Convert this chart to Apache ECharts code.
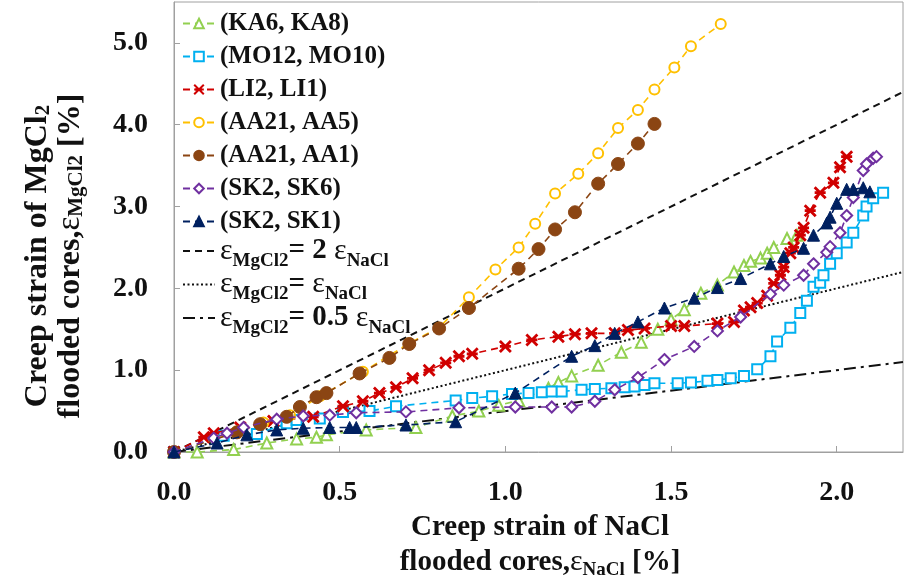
<!DOCTYPE html>
<html>
<head>
<meta charset="utf-8">
<script src="https://cdn.jsdelivr.net/npm/echarts@6/dist/echarts.min.js"></script>
<style>
  html, body { margin: 0; padding: 0; background: #fff; }
  #chart { width: 924px; height: 584px; }
</style>
</head>
<body>
<div id="chart"></div>
<script>
// Creep strain pairs: [NaCl-flooded strain %, MgCl2-flooded strain %]
const seriesNames = ['(KA6, KA8)', '(MO12, MO10)', '(LI2, LI1)', '(AA21, AA5)', '(AA21, AA1)', '(SK2, SK6)', '(SK2, SK1)'];

const ka = [[0,0],[0.07,0.00],[0.18,0.03],[0.28,0.11],[0.37,0.16],[0.43,0.18],[0.46,0.21],[0.58,0.27],[0.73,0.30],[0.84,0.44],[0.92,0.50],[0.98,0.57],[1.04,0.63],[1.13,0.78],[1.16,0.85],[1.20,0.93],[1.28,1.06],[1.35,1.22],[1.41,1.34],[1.46,1.50],[1.50,1.62],[1.54,1.74],[1.59,1.94],[1.64,2.04],[1.69,2.20],[1.72,2.28],[1.74,2.33],[1.77,2.37],[1.79,2.43],[1.81,2.50],[1.85,2.61],[1.88,2.65]];

const mo = [[0,0],[0.15,0.20],[0.25,0.22],[0.34,0.35],[0.37,0.39],[0.44,0.41],[0.51,0.49],[0.59,0.50],[0.67,0.56],[0.85,0.63],[0.90,0.66],[0.96,0.68],[1.02,0.71],[1.07,0.72],[1.11,0.73],[1.14,0.74],[1.17,0.74],[1.23,0.76],[1.27,0.77],[1.32,0.78],[1.36,0.79],[1.39,0.80],[1.42,0.82],[1.45,0.84],[1.52,0.84],[1.56,0.85],[1.61,0.87],[1.64,0.88],[1.68,0.90],[1.72,0.93],[1.76,1.01],[1.80,1.17],[1.82,1.35],[1.86,1.52],[1.89,1.70],[1.91,1.85],[1.93,2.02],[1.95,2.07],[1.96,2.16],[1.98,2.30],[2.00,2.43],[2.03,2.56],[2.05,2.68],[2.08,2.89],[2.09,3.00],[2.11,3.10],[2.14,3.17]];

const li = [[0,0],[0.09,0.18],[0.12,0.23],[0.20,0.30],[0.30,0.38],[0.42,0.43],[0.51,0.56],[0.57,0.62],[0.62,0.72],[0.67,0.79],[0.72,0.90],[0.77,1.00],[0.82,1.09],[0.86,1.17],[0.90,1.20],[1.00,1.29],[1.08,1.37],[1.16,1.41],[1.21,1.44],[1.26,1.45],[1.33,1.45],[1.37,1.49],[1.42,1.51],[1.50,1.54],[1.54,1.54],[1.64,1.57],[1.69,1.59],[1.72,1.73],[1.74,1.77],[1.76,1.82],[1.79,1.91],[1.81,2.06],[1.83,2.16],[1.84,2.26],[1.86,2.43],[1.87,2.50],[1.89,2.65],[1.90,2.74],[1.92,2.95],[1.95,3.17],[1.99,3.29],[2.01,3.48],[2.03,3.61]];

const aa5 = [[0,0],[0.19,0.25],[0.27,0.36],[0.35,0.45],[0.44,0.68],[0.57,0.98],[0.71,1.33],[0.80,1.52],[0.89,1.89],[0.97,2.23],[1.04,2.50],[1.09,2.79],[1.15,3.16],[1.22,3.40],[1.28,3.65],[1.34,3.96],[1.40,4.18],[1.45,4.43],[1.51,4.70],[1.56,4.96],[1.65,5.23]];

const aa1 = [[0,0],[0.19,0.24],[0.26,0.34],[0.34,0.43],[0.38,0.55],[0.43,0.67],[0.46,0.72],[0.56,0.96],[0.65,1.15],[0.71,1.32],[0.80,1.51],[0.89,1.76],[1.04,2.24],[1.10,2.48],[1.15,2.72],[1.21,2.93],[1.28,3.28],[1.34,3.52],[1.40,3.77],[1.45,4.01]];

const sk6 = [[0,0],[0.12,0.17],[0.16,0.23],[0.21,0.30],[0.31,0.40],[0.39,0.44],[0.47,0.45],[0.55,0.48],[0.70,0.49],[0.86,0.54],[1.03,0.55],[1.14,0.55],[1.20,0.55],[1.27,0.62],[1.33,0.76],[1.40,0.91],[1.48,1.13],[1.57,1.29],[1.64,1.48],[1.71,1.65],[1.80,1.93],[1.84,2.04],[1.90,2.16],[1.93,2.30],[1.97,2.44],[1.98,2.51],[2.01,2.68],[2.03,2.89],[2.05,3.11],[2.08,3.44],[2.09,3.52],[2.11,3.59],[2.12,3.61]];

const sk1 = [[0,0],[0.13,0.11],[0.22,0.21],[0.31,0.27],[0.39,0.29],[0.47,0.30],[0.53,0.30],[0.55,0.30],[0.70,0.33],[0.85,0.37],[1.03,0.72],[1.20,1.17],[1.27,1.30],[1.33,1.45],[1.40,1.59],[1.48,1.76],[1.57,1.88],[1.64,2.01],[1.71,2.12],[1.80,2.30],[1.84,2.39],[1.90,2.49],[1.93,2.65],[1.97,2.80],[1.98,2.87],[2.00,3.04],[2.03,3.21],[2.05,3.21],[2.08,3.23],[2.10,3.18]];

// Proportional reference lines eps_MgCl2 = k * eps_NaCl
const refSlopes = [2, 1, 0.5];
const refNames = ['ε = 2ε', 'ε = ε', 'ε = 0.5ε'];
const xTicks = [0, 0.5, 1.0, 1.5, 2.0];
const yTicks = [0, 1, 2, 3, 4, 5];

const SERIF = '"Liberation Serif", "DejaVu Serif", serif';
const starPath = 'path://M0,0L10,10M10,0L0,10M0,5L10,5';

const styles = [
  { color: '#92D050', symbol: 'triangle', size: 11, empty: true },
  { color: '#00B0F0', symbol: 'rect', size: 10, empty: true },
  { color: '#D00000', symbol: starPath, size: 11, star: true },
  { color: '#FFC000', symbol: 'circle', size: 10, empty: true },
  { color: '#8B4513', symbol: 'circle', size: 13, empty: false },
  { color: '#7030A0', symbol: 'diamond', size: 11, empty: true },
  { color: '#002060', symbol: 'triangle', size: 12, empty: false }
];
const dataSets = [ka, mo, li, aa5, aa1, sk6, sk1];

const series = dataSets.map((d, i) => {
  const st = styles[i];
  return {
    name: seriesNames[i],
    type: 'line',
    data: d,
    symbol: st.symbol,
    symbolSize: st.size,
    showAllSymbol: true,
    lineStyle: { color: st.color, width: 1.6, type: [7, 5] },
    itemStyle: st.star
      ? { color: st.color, borderColor: st.color, borderWidth: 2.8 }
      : st.empty
        ? { color: '#fff', borderColor: st.color, borderWidth: 2 }
        : { color: st.color, borderColor: st.color, borderWidth: 1 },
    z: 3 + i
  };
});

const refStyles = [
  { type: [7, 5], width: 2 },
  { type: [2, 2.5], width: 2 },
  { type: [12, 5, 3, 5], width: 2 }
];
refSlopes.forEach((k, i) => {
  series.push({
    name: refNames[i],
    type: 'line',
    data: [[0, 0], [2.2, 2.2 * k]],
    symbol: 'none',
    itemStyle: { color: '#111' },
    lineStyle: { color: '#111', width: refStyles[i].width, type: refStyles[i].type },
    z: 2
  });
});

const legendRich = {
  t: { fontFamily: SERIF, fontWeight: 'bold', fontSize: 25, lineHeight: 25, color: '#111' },
  e: { fontFamily: SERIF, fontWeight: 'normal', fontSize: 30, lineHeight: 24, height: 24, color: '#111' },
  s: { fontFamily: SERIF, fontWeight: 'bold', fontSize: 19, lineHeight: 4, height: 4, verticalAlign: 'bottom', color: '#111' },
  b: { fontFamily: SERIF, fontWeight: 'bold', fontSize: 29, lineHeight: 24, height: 24, color: '#111' }
};
const refLegend = {
  'ε = 2ε': '{e|ε}{s|MgCl2}{b|= 2 }{e|ε}{s|NaCl}',
  'ε = ε': '{e|ε}{s|MgCl2}{b|= }{e|ε}{s|NaCl}',
  'ε = 0.5ε': '{e|ε}{s|MgCl2}{b|= 0.5 }{e|ε}{s|NaCl}'
};

const titleRich = (size, lh) => ({
  a: { fontFamily: SERIF, fontWeight: 'bold', fontSize: size, lineHeight: lh, fill: '#111' },
  e: { fontFamily: SERIF, fontWeight: 'normal', fontSize: size + 1, lineHeight: lh, fill: '#111' },
  s: { fontFamily: SERIF, fontWeight: 'bold', fontSize: Math.round(size * 0.66), lineHeight: 8, verticalAlign: 'bottom', fill: '#111' }
});

const legendBase = {
  orient: 'vertical', left: 177,
  itemWidth: 32, itemHeight: 12,
  textStyle: { fontFamily: SERIF, fontWeight: 'bold', fontSize: 25, lineHeight: 25, color: '#111', rich: legendRich },
  formatter: name => refLegend[name] || ('{t|' + name + '}')
};

const chart = echarts.init(document.getElementById('chart'), null, { renderer: 'canvas' });
chart.setOption({
  animation: false,
  backgroundColor: '#fff',
  grid: { left: 174, right: 21, top: 2, bottom: 132, show: true, borderColor: '#a0a0a0', borderWidth: 1 },
  xAxis: {
    type: 'value', min: 0, max: 2.2, interval: 0.5,
    axisLine: { lineStyle: { color: '#a0a0a0', width: 1 } },
    axisTick: { inside: true, length: 6, lineStyle: { color: '#a0a0a0' } },
    splitLine: { show: false },
    axisLabel: {
      margin: 27, showMaxLabel: false,
      fontFamily: SERIF, fontWeight: 'bold', fontSize: 28, color: '#111',
      formatter: v => (xTicks.some(t => Math.abs(t - v) < 1e-9) ? v.toFixed(1) : '')
    }
  },
  yAxis: {
    type: 'value', min: 0, max: 5.5, interval: 1,
    axisLine: { show: true, lineStyle: { color: '#a0a0a0', width: 1 } },
    axisTick: { show: true, inside: true, length: 6, lineStyle: { color: '#a0a0a0' } },
    splitLine: { show: false },
    axisLabel: {
      margin: 26, showMaxLabel: false,
      fontFamily: SERIF, fontWeight: 'bold', fontSize: 28, color: '#111',
      formatter: v => (yTicks.some(t => Math.abs(t - v) < 1e-9) ? v.toFixed(1) : '')
    }
  },
  legend: [
    Object.assign({}, legendBase, { top: 6, itemGap: 8, data: seriesNames }),
    Object.assign({}, legendBase, {
      top: 231, itemGap: -1,
      data: refNames.map(n => ({ name: n, itemStyle: { opacity: 0 } }))
    })
  ],
  graphic: [
    {
      type: 'text', x: 540, y: 545,
      style: {
        text: '{a|Creep strain of NaCl}\n{a|flooded cores,}{e|ε}{s|NaCl}{a| [%]}',
        rich: titleRich(29, 35), align: 'center', verticalAlign: 'middle',
        textAlign: 'center', textVerticalAlign: 'middle'
      }
    },
    {
      type: 'text', x: 54, y: 256, rotation: Math.PI / 2,
      style: {
        text: '{a|Creep strain of MgCl}{s|2}\n{a|flooded cores,}{e|ε}{s|MgCl2}{a| [%]}',
        rich: titleRich(32, 33), align: 'center', verticalAlign: 'middle',
        textAlign: 'center', textVerticalAlign: 'middle'
      }
    }
  ],
  series: series
});
</script>
</body>
</html>
